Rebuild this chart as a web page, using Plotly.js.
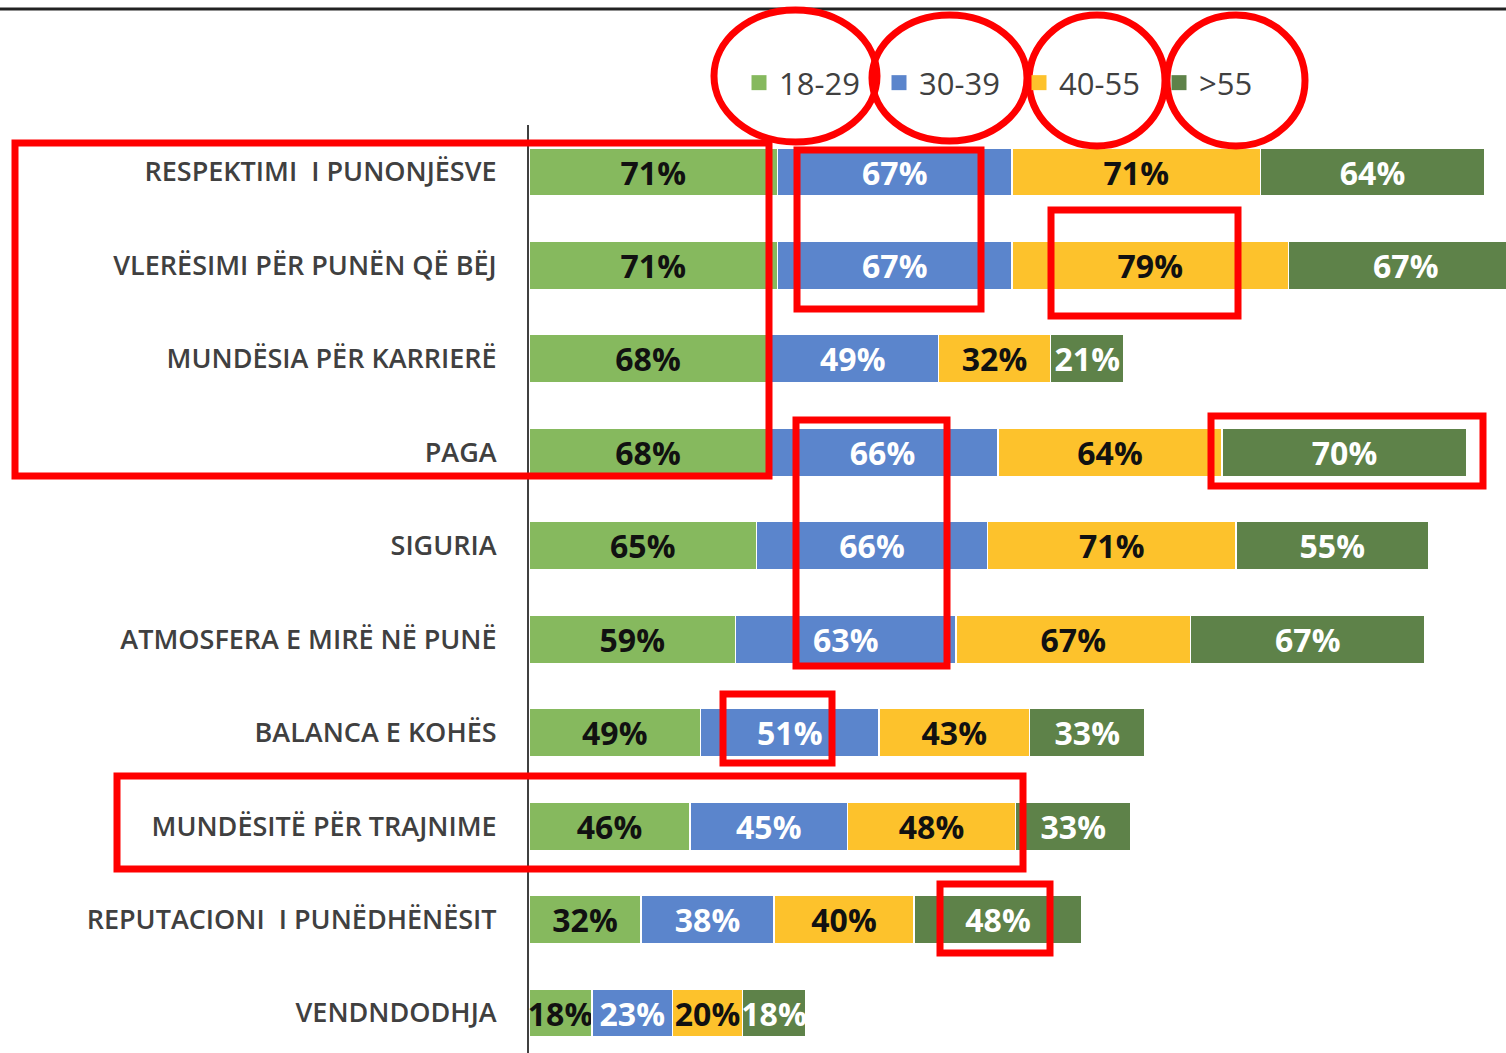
<!DOCTYPE html>
<html>
<head>
<meta charset="utf-8">
<script src="https://cdn.plot.ly/plotly-3.0.1.min.js"></script>
<style>html,body{margin:0;padding:0;background:#fff;}#chart{width:1506px;height:1053px;}</style>
</head>
<body>
<div id="chart"></div>
<script>
// ---- data ----
var categories = [
  "RESPEKTIMI  I PUNONJËSVE",
  "VLERËSIMI PËR PUNËN QË BËJ",
  "MUNDËSIA PËR KARRIERË",
  "PAGA",
  "SIGURIA",
  "ATMOSFERA E MIRË NË PUNË",
  "BALANCA E KOHËS",
  "MUNDËSITË PËR TRAJNIME",
  "REPUTACIONI  I PUNËDHËNËSIT",
  "VENDNDODHJA"
];
var seriesNames = ["18-29", "30-39", "40-55", ">55"];
var age18_29 = [71, 71, 68, 68, 65, 59, 49, 46, 32, 18];
var age30_39 = [67, 67, 49, 66, 66, 63, 51, 45, 38, 23];
var age40_55 = [71, 79, 32, 64, 71, 67, 43, 48, 40, 20];
var age55plus = [64, 67, 21, 70, 55, 67, 33, 33, 48, 18];

// ---- styling ----
var W = 1506, H = 1053;
var L = 529, T = 125;
var colors = ["#86B95E", "#5B85CC", "#FDC22C", "#5E8249"];
var textColors = ["#111111", "#ffffff", "#111111", "#ffffff"];
var allSeries = [age18_29, age30_39, age40_55, age55plus];

var traces = allSeries.map(function (vals, i) {
  return {
    type: "bar",
    orientation: "h",
    name: seriesNames[i],
    legendgroup: seriesNames[i],
    showlegend: false,
    y: categories,
    x: vals,
    text: vals.map(function (v) { return v + "%"; }),
    textposition: "inside",
    insidetextanchor: "middle",
    constraintext: "none",
    textfont: { family: "Open Sans, sans-serif", size: 32, weight: 700, color: textColors[i] },
    marker: { color: colors[i], line: { color: "#ffffff", width: 1.2 } },
    hoverinfo: "skip"
  };
});
// legend-only entries (square swatches)
seriesNames.forEach(function (n, i) {
  traces.push({
    type: "scatter", mode: "markers", name: n, legendgroup: n,
    x: [null], y: [null], showlegend: true,
    marker: { symbol: "square", size: 15, color: colors[i] },
    hoverinfo: "skip"
  });
});

// pixel -> paper helpers for the highlight overlays
function px(x) { return (x - L) / (W - L); }
function py(y) { return (H - y) / (H - T); }
function rect(x0, y0, x1, y1) {
  return { type: "rect", xref: "paper", yref: "paper", x0: px(x0), x1: px(x1), y0: py(y1), y1: py(y0),
           line: { color: "#FF0000", width: 7 }, fillcolor: "rgba(0,0,0,0)", layer: "above" };
}
function ellipse(x0, y0, x1, y1) {
  return { type: "circle", xref: "paper", yref: "paper", x0: px(x0), x1: px(x1), y0: py(y1), y1: py(y0),
           line: { color: "#FF0000", width: 7 }, fillcolor: "rgba(0,0,0,0)", layer: "above" };
}

var shapes = [
  { type: "line", xref: "paper", yref: "paper", x0: px(0), x1: px(W), y0: py(9), y1: py(9),
    line: { color: "#222222", width: 3 } },
  rect(15, 143, 769, 476),
  rect(797, 150, 981, 309),
  rect(1051, 210, 1238, 316),
  rect(796, 420, 947, 666),
  rect(1211, 416, 1483, 486),
  rect(723, 694, 832, 763),
  rect(117, 776, 1023, 869),
  rect(940, 884, 1050, 953),
  ellipse(714, 10, 877, 142),
  ellipse(872, 15, 1027, 141),
  ellipse(1029, 15, 1165, 146),
  ellipse(1167, 15, 1305, 146)
];

var layout = {
  width: W, height: H,
  margin: { l: L, r: 0, t: T, b: 0, pad: 0 },
  paper_bgcolor: "#ffffff",
  plot_bgcolor: "#ffffff",
  barmode: "stack",
  bargap: 0.485,
  showlegend: true,
  legend: {
    orientation: "h",
    x: px(739), xanchor: "left",
    y: py(83), yanchor: "middle",
    font: { family: "Open Sans, sans-serif", size: 31, color: "#404040" },
    traceorder: "normal",
    entrywidth: 95,
    entrywidthmode: "pixels",
    bgcolor: "rgba(0,0,0,0)"
  },
  xaxis: {
    range: [0, (W - L) / 3.5],
    showticklabels: false, showgrid: false, zeroline: false, showline: false,
    fixedrange: true
  },
  yaxis: {
    type: "category",
    categoryorder: "array",
    categoryarray: categories,
    range: [9.428, -0.503],
    showgrid: false, zeroline: false,
    showline: true, linecolor: "#404040", linewidth: 2,
    ticks: "",
    ticklabelstandoff: 25,
    tickfont: { family: "Open Sans, sans-serif", size: 27, weight: 600, color: "#404040" },
    fixedrange: true
  },
  shapes: shapes
};

Plotly.newPlot("chart", traces, layout, { displayModeBar: false, staticPlot: true });
</script>
</body>
</html>
